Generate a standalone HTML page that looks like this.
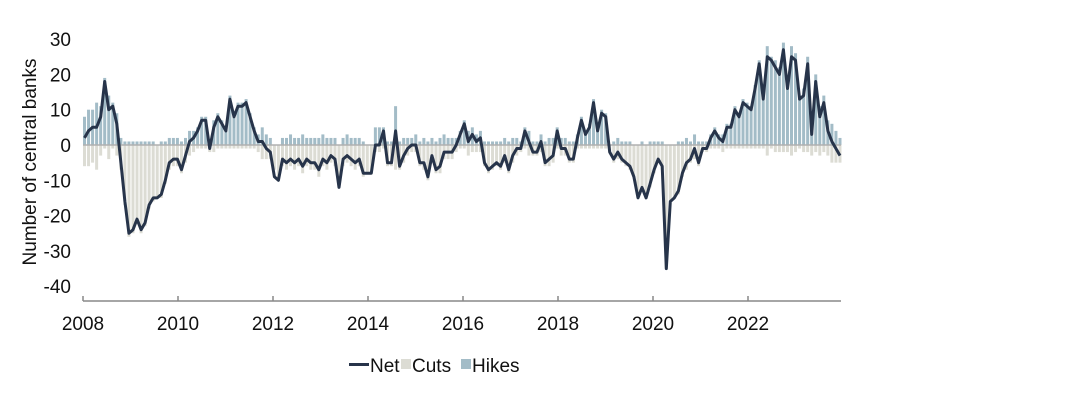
<!DOCTYPE html>
<html><head><meta charset="utf-8"><style>
body{margin:0;background:#fff;}
svg text{font-family:"Liberation Sans",Arial,sans-serif;fill:#111;}
</style></head><body>
<svg width="1088" height="400" viewBox="0 0 1088 400">
<g id="bars"></g>
<line x1="83" x2="841" y1="145" y2="145" stroke="#b0b0b0" stroke-width="1.5"/>
<path id="netline" fill="none" stroke="#27344a" stroke-width="3" stroke-linejoin="round"/>
<line x1="83" x2="841" y1="301" y2="301" stroke="#888" stroke-width="1.5"/>
<g id="xticks"></g>
<g id="yticks"></g>
<text transform="translate(36,162) rotate(-90)" text-anchor="middle" font-size="19">Number of central banks</text>
<g>
<g><rect x="349" y="363" width="20" height="3" fill="#27344a"/><text x="370" y="372" font-size="19">Net</text></g>
<g><rect x="401" y="359" width="10" height="10" fill="#dcdcd4"/><text x="412" y="372" font-size="19">Cuts</text></g>
<g><rect x="461" y="359" width="10" height="10" fill="#a3bcc7"/><text x="472" y="372" font-size="19">Hikes</text></g>
</g>
</svg>
<script>
const net=[2,4,5,5,8,18,10,11,6,-5,-16,-25,
-24,-21,-24,-22,-17,-15,-15,-14,-10,-5,-4,-4,
-7,-3,1,2,4,7,7,-1,5,8,6,4,
13,8,11,11,12,8,4,1,1,-1,-2,-9,
-10,-4,-5,-4,-5,-4,-6,-4,-5,-5,-7,-4,
-5,-3,-4,-12,-4,-3,-4,-5,-4,-8,-8,-8,
0,0,4,-5,-5,4,-6,-3,-1,0,0,-5,
-5,-9,-3,-7,-6,-2,-2,-2,0,3,6,1,
3,1,2,-5,-7,-6,-5,-6,-3,-7,-3,-1,
-1,4,1,-2,-2,1,-5,-4,-3,4,-1,-1,
-4,-4,2,7,3,5,12,4,9,8,-2,-4,
-2,-4,-5,-6,-9,-15,-12,-15,-11,-7,-4,-6,
-35,-16,-15,-13,-8,-5,-4,-1,-5,-1,-1,2,
4,2,1,5,5,10,8,12,11,10,16,23,
13,25,24,22,20,27,16,25,24,13,14,23,
3,18,8,12,4,1,-1,-3];
const cuts=[6,6,5,7,3,1,4,1,3,
7,17,26,25,22,25,23,18,16,15,15,11,7,6,6,
8,5,3,2,1,1,1,2,2,1,1,1,
1,1,1,1,1,1,1,2,4,4,4,7,
10,6,7,6,7,6,8,6,7,7,9,6,7,5,6,12,6,5,6,7,6,9,8,8,
2,2,1,6,6,7,7,5,3,2,2,6,7,10,5,8,8,4,4,4,2,1,1,3,
2,2,2,6,8,7,6,7,5,8,5,3,2,1,3,3,3,2,6,6,5,1,3,3,5,5,1,1,1,1,1,1,1,1,2,5,
4,5,6,7,9,15,13,15,12,8,5,7,35,16,15,14,9,7,5,4,6,2,2,1,
1,1,2,1,1,1,1,1,1,1,1,1,1,3,1,2,2,2,2,3,2,1,2,2,3,2,3,2,3,5,5,5];
const hikes=[8,10,10,12,11,19,14,12,9,
2,1,1,1,1,1,1,1,1,0,1,1,2,2,2,
1,2,4,4,5,8,8,1,7,9,7,5,
14,9,12,12,13,9,5,3,5,3,2,0,
0,2,2,3,2,2,3,2,2,2,2,3,2,2,2,0,2,3,2,2,2,1,0,0,
5,5,5,1,1,11,1,2,2,2,3,1,2,1,2,1,2,3,2,2,2,4,7,4,
5,3,4,1,1,1,1,1,2,1,2,2,1,5,4,1,1,3,1,2,2,5,2,2,1,1,3,8,4,6,13,5,10,9,0,1,
2,1,1,1,0,0,1,0,1,1,1,1,0,0,0,1,1,2,1,3,1,1,1,3,
5,3,3,6,6,11,9,13,12,11,17,24,14,28,25,24,22,29,18,28,26,14,16,25,6,20,11,14,7,6,4,2];
const yTicks=[30,20,10,0,-10,-20,-30,-40];
const xTickLabels=["2008","2010","2012","2014","2016","2018","2020","2022"];

const NS="http://www.w3.org/2000/svg";
function y(v){return 145 - v*3.53;}
function x(i){return 84.5 + i*4.04;}
function xYear(k){return 83 + k*95;}
const bars=document.getElementById('bars');
for(let i=0;i<hikes.length;i++){
  const r=document.createElementNS(NS,'rect');
  
  
  r.setAttribute('x',x(i)-1.5);r.setAttribute('width',3);
  r.setAttribute('y',y(hikes[i]));r.setAttribute('height',Math.max(0,y(0)-y(hikes[i])));
  r.setAttribute('fill','#a3bcc7');bars.appendChild(r);
}
for(let i=0;i<cuts.length;i++){
  const r=document.createElementNS(NS,'rect');
  
  
  r.setAttribute('x',x(i)-1.5);r.setAttribute('width',3);
  r.setAttribute('y',y(0));r.setAttribute('height',Math.max(0,y(-cuts[i])-y(0)));
  r.setAttribute('fill','#dcdcd4');bars.appendChild(r);
}
document.getElementById('netline').setAttribute('d',net.map((v,i)=>(i?'L':'M')+x(i).toFixed(1)+' '+y(v).toFixed(1)).join(' '));
const xt=document.getElementById('xticks');
xTickLabels.forEach((l,k)=>{
  const t=document.createElementNS(NS,'line');
  
  
  t.setAttribute('x1',xYear(k));t.setAttribute('x2',xYear(k));t.setAttribute('y1',296);t.setAttribute('y2',301);
  t.setAttribute('stroke','#888');t.setAttribute('stroke-width','1.5');xt.appendChild(t);
  const s=document.createElementNS(NS,'text');
  
  
  s.setAttribute('x',xYear(k));s.setAttribute('y',330);s.setAttribute('text-anchor','middle');s.setAttribute('font-size','19');
  s.textContent=l;xt.appendChild(s);
});
const yt=document.getElementById('yticks');
yTicks.forEach(v=>{
  const s=document.createElementNS(NS,'text');
  
  
  s.setAttribute('x',71);s.setAttribute('y',y(v)+7);s.setAttribute('text-anchor','end');s.setAttribute('font-size','19');
  s.textContent=v;yt.appendChild(s);
});
</script>
</body></html>
